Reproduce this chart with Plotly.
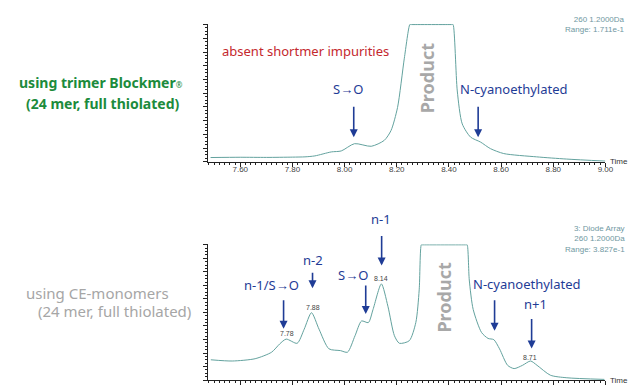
import plotly.graph_objects as go

# ---------------- data ----------------
top_time = [7.486, 7.60, 7.70, 7.80, 7.848, 7.886, 7.949, 7.987, 8.038, 8.102, 8.152,
            8.178, 8.203, 8.229, 8.250, 8.253, 8.413, 8.416, 8.432, 8.451, 8.483, 8.521,
            8.559, 8.610, 8.736, 8.85, 9.0]
top_signal = [0.031, 0.033, 0.032, 0.034, 0.036, 0.043, 0.072, 0.079, 0.132, 0.113, 0.156,
              0.228, 0.396, 0.755, 1.0, 1.0, 1.0, 1.0, 0.516, 0.276, 0.180, 0.144,
              0.096, 0.060, 0.036, 0.020, 0.005]

bot_time = [7.487, 7.569, 7.657, 7.720, 7.751, 7.776, 7.818, 7.845, 7.873, 7.902, 7.940,
            7.984, 8.011, 8.040, 8.065, 8.091, 8.109, 8.141, 8.166, 8.191, 8.210, 8.248,
            8.273, 8.286, 8.294, 8.297, 8.467, 8.470, 8.478, 8.493, 8.525, 8.550, 8.572,
            8.594, 8.625, 8.650, 8.682, 8.713, 8.738, 8.789, 8.852, 8.996]
bot_signal = [0.150, 0.141, 0.158, 0.206, 0.267, 0.303, 0.272, 0.376, 0.498, 0.376, 0.231,
              0.218, 0.206, 0.328, 0.437, 0.425, 0.522, 0.711, 0.546, 0.328, 0.272, 0.291,
              0.425, 0.667, 1.0, 1.0, 1.0, 1.0, 0.740, 0.522, 0.352, 0.308, 0.299,
              0.231, 0.109, 0.085, 0.109, 0.141, 0.109, 0.036, 0.017, 0.005]

# peak retention-time labels (bottom chart)
peak_times = [7.78, 7.88, 8.14, 8.71]
peak_label_y = [0.345, 0.533, 0.752, 0.168]

# arrows: (time, tip signal, length px)
top_arrows_x = [8.035, 8.512]
top_arrows_y = [0.179, 0.179]
top_arrow_len = [32, 32]
bot_arrows_x = [7.766, 7.877, 8.081, 8.142, 8.575, 8.717]
bot_arrows_y = [0.380, 0.679, 0.489, 0.847, 0.365, 0.234]
bot_arrow_len = [30, 17, 30, 31, 32, 31]

top_labels = ["S→O", "N-cyanoethylated"]
top_label_x = [8.012, 8.648]
top_label_y = [0.529, 0.529]
bot_labels = ["n-1/S→O", "n-2", "S→O", "N-cyanoethylated", "n+1"]
bot_label_x = [7.719, 7.877, 8.032, 8.698, 8.733]
bot_label_y = [0.706, 0.888, 0.774, 0.713, 0.560]

X_RANGE = [7.478, 9.0]
W, H = 639, 385
LINE_COLOR = "#63a29e"
BLUE = "#1f3c96"
FONT = "Noto Sans"


def py(px):
    return 1 - px / H


fig = go.Figure()
fig.add_trace(go.Scatter(x=top_time, y=top_signal, mode="lines", xaxis="x", yaxis="y",
                         line=dict(color=LINE_COLOR, width=1, shape="spline", smoothing=0.7),
                         hoverinfo="skip", showlegend=False))
fig.add_trace(go.Scatter(x=bot_time, y=bot_signal, mode="lines", xaxis="x2", yaxis="y2",
                         line=dict(color=LINE_COLOR, width=1, shape="spline", smoothing=0.7),
                         hoverinfo="skip", showlegend=False))

xax = dict(range=X_RANGE, domain=[203 / W, 605 / W], showline=True, linecolor="#222",
           linewidth=1, ticks="outside", ticklen=4, tickcolor="#222", tick0=7.6, dtick=0.2,
           tickformat=".2f", tickfont=dict(size=8, color="#444", family="Liberation Sans"),
           ticklabelstandoff=-4,
           minor=dict(ticks="outside", ticklen=2, dtick=0.02, tickcolor="#222"),
           showgrid=False, zeroline=False, fixedrange=True)
yax = dict(range=[0, 1.005], showline=True, linecolor="#222", linewidth=1, ticks="outside",
           ticklen=4, tickcolor="#222", dtick=0.1, showticklabels=False,
           minor=dict(ticks="outside", ticklen=2, dtick=0.025, tickcolor="#222"),
           showgrid=False, zeroline=False, fixedrange=True)

fig.update_layout(
    width=W, height=H, margin=dict(l=0, r=0, t=0, b=0),
    paper_bgcolor="white", plot_bgcolor="white",
    xaxis=dict(xax, anchor="y"),
    yaxis=dict(yax, domain=[py(155), py(16)], anchor="x"),
    xaxis2=dict(xax, anchor="y2"),
    yaxis2=dict(yax, domain=[py(375), py(238)], anchor="x2"),
)

ann = []
# arrows
for xs, ys, ls, xr, yr in [(top_arrows_x, top_arrows_y, top_arrow_len, "x", "y"),
                           (bot_arrows_x, bot_arrows_y, bot_arrow_len, "x2", "y2")]:
    for x, y, l in zip(xs, ys, ls):
        ann.append(dict(x=x, y=y, xref=xr, yref=yr, text="", showarrow=True, ax=0, ay=-l,
                        arrowhead=2, arrowsize=1, arrowwidth=1.6, arrowcolor=BLUE))
# blue labels
for labs, xs, ys, xr, yr in [(top_labels, top_label_x, top_label_y, "x", "y"),
                             (bot_labels, bot_label_x, bot_label_y, "x2", "y2")]:
    for t, x, y in zip(labs, xs, ys):
        ann.append(dict(x=x, y=y, xref=xr, yref=yr, text=t, showarrow=False,
                        font=dict(size=13, color=BLUE, family=FONT)))
# n-1 label sits above the plot area
ann.append(dict(x=377.7 / W, y=py(212.7), xref="paper", yref="paper", text="n-1",
                showarrow=False, font=dict(size=13, color=BLUE, family=FONT)))
# peak labels
for t, y in zip(peak_times, peak_label_y):
    ann.append(dict(x=t, y=y, xref="x2", yref="y2", text=f"{t:.2f}", showarrow=False,
                    font=dict(size=7, color="#444", family="Liberation Sans")))
# Product labels
ann.append(dict(x=8.319, y=0.607, xref="x", yref="y", text="<b>Product</b>", textangle=-90,
                showarrow=False, font=dict(size=18, color="#a8a8a8", family=FONT)))
ann.append(dict(x=8.380, y=0.608, xref="x2", yref="y2", text="<b>Product</b>", textangle=-90,
                showarrow=False, font=dict(size=18, color="#a8a8a8", family=FONT)))
# red note
ann.append(dict(x=7.849, y=0.807, xref="x", yref="y", text="absent shortmer impurities",
                showarrow=False, font=dict(size=13, color="#c4282e", family=FONT)))
# info text
INFO = "#6f98a2"
ann.append(dict(x=627 / W, y=py(16.5), xref="paper", yref="paper", xanchor="right",
                yanchor="middle", align="right", showarrow=False,
                text="260 1.2000Da<br>Range: 1.711e-1",
                font=dict(size=8, color=INFO, family="Liberation Sans")))
ann.append(dict(x=627 / W, y=py(233), xref="paper", yref="paper", xanchor="right",
                yanchor="middle", align="right", showarrow=False,
                text="3: Diode Array<br>260 1.2000Da<br>Range: 3.827e-1",
                font=dict(size=8, color=INFO, family="Liberation Sans")))
for yy in [155, 375]:
    ann.append(dict(x=608 / W, y=py(yy), xref="paper", yref="paper", xanchor="left",
                    yanchor="middle", showarrow=False, text="Time",
                    font=dict(size=8, color="#333", family="Liberation Sans")))
# left descriptions
GREEN = "#1c8b3c"
GRAY = "#a6a6a6"
left_texts = [
    ("<b>using trimer Blockmer</b><span style='font-size:8px'>®</span>", 94.5, 75, GREEN, 14),
    ("<b>(24 mer, full thiolated)</b>", 96.5, 96, GREEN, 14),
    ("using CE-monomers", 90.5, 287, GRAY, 15),
    ("(24 mer, full thiolated)", 107.5, 305, GRAY, 15),
]
for t, cx, cy, col, sz in left_texts:
    ann.append(dict(x=cx / W, y=py(cy), xref="paper", yref="paper", xanchor="center",
                    yanchor="middle", showarrow=False, text=t,
                    font=dict(size=sz, color=col, family=FONT)))

fig.update_layout(annotations=ann)
fig.write_html("out.html")
